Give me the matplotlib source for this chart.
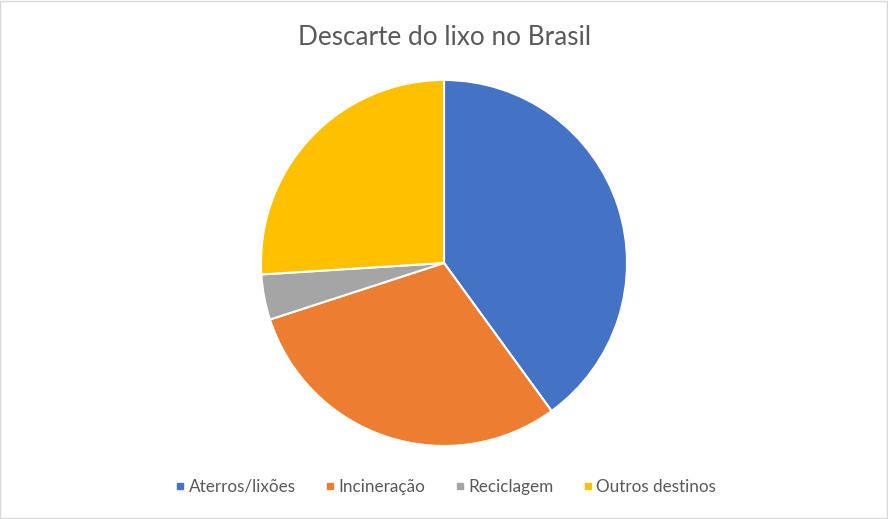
import matplotlib.pyplot as plt
from matplotlib.lines import Line2D
from matplotlib.patches import Rectangle

categories = ["Aterros/lixões", "Incineração", "Reciclagem", "Outros destinos"]
values = [40, 30, 4, 26]
colors = ["#4472C4", "#ED7D31", "#A5A5A5", "#FFC000"]

plt.rcParams['font.family'] = ['Lato', 'DejaVu Sans']

fig = plt.figure(figsize=(8.88, 5.19), dpi=100)
fig.patch.set_facecolor("white")
fig.patches.append(Rectangle((0.0005, 0.001), 0.998, 0.997, transform=fig.transFigure,
                             fill=False, edgecolor="#D9D9D9", linewidth=1))

ax = fig.add_axes([0.2939, 0.1407, 0.4122, 0.7052])
ax.pie(values, colors=colors, startangle=90, counterclock=False,
       wedgeprops=dict(edgecolor="white", linewidth=1.5))
ax.set_xlim(-1.0, 1.0)
ax.set_ylim(-1.0, 1.0)
ax.set_aspect("auto")
ax.axis("off")

fig.text(0.5, 0.927, "Descarte do lixo no Brasil", ha="center", va="center",
         fontsize=18.8, color="#595959")

handles = [Line2D([0], [0], marker="s", linestyle="none", markersize=5,
                  markerfacecolor=c, markeredgecolor=c) for c in colors]
fig.legend(handles, categories, loc="center", bbox_to_anchor=(0.5, 0.0617),
           ncol=4, frameon=False, fontsize=12.3, labelcolor="#595959",
           handletextpad=0.0, columnspacing=1.5, handlelength=1.0)

fig.savefig("out.png", dpi=100)
